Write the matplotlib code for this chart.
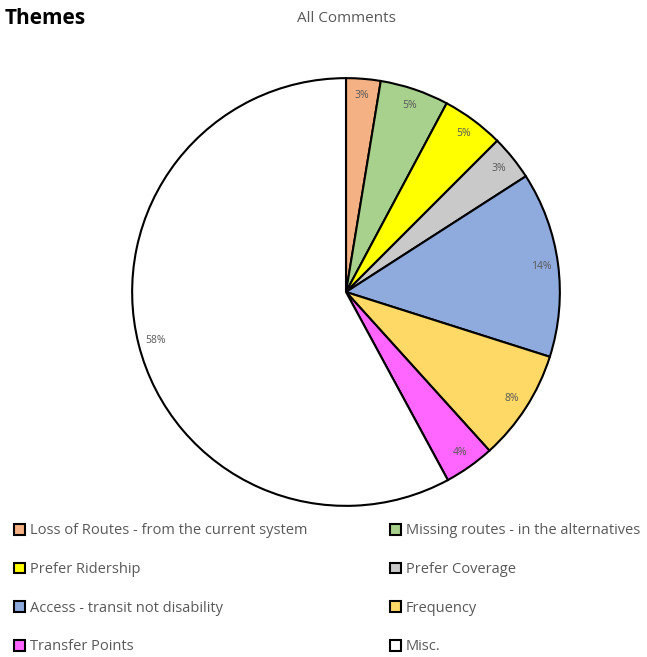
import matplotlib
matplotlib.use("Agg")
import matplotlib.pyplot as plt

categories = ["Loss of Routes - from the current system", "Missing routes - in the alternatives",
              "Prefer Ridership", "Prefer Coverage", "Access - transit not disability",
              "Frequency", "Transfer Points", "Misc."]
values = [2.6, 5.2, 4.7, 3.4, 14.0, 8.4, 3.8, 57.9]
colors = ["#F4B183", "#A9D18E", "#FFFF00", "#C9C9C9", "#8FAADC", "#FFD966", "#FF66FF", "#FFFFFF"]

plt.rcParams['font.family'] = ['Open Sans', 'DejaVu Sans']

W, H = 647, 657
fig = plt.figure(figsize=(W/100, H/100), dpi=100)
cx, cy, r = 346, 292, 216
ax = fig.add_axes([(cx - r)/W, 1 - (cy + r)/H, 2*r/W, 2*r/H])
wedges, texts, autotexts = ax.pie(values, colors=colors, startangle=90, counterclock=False,
                                  autopct='%.0f%%', pctdistance=0.92, radius=1,
                                  wedgeprops=dict(edgecolor='black', linewidth=1.5),
                                  textprops=dict(fontsize=7.5, color='#595959'))
ax.set_xlim(-1.01, 1.01)
ax.set_ylim(-1.01, 1.01)
ax.set_aspect('equal')
ax.axis('off')

fig.text(5/W, 1 - 18/H, "Themes", fontsize=15, fontweight='bold', color='black',
         ha='left', va='center')
fig.text(346/W, 1 - 18/H, "All Comments", fontsize=11, color='#595959', ha='center', va='center')

for col, x0 in enumerate([14, 390]):
    hs = [wedges[i] for i in range(col, 8, 2)]
    ls = [categories[i] for i in range(col, 8, 2)]
    leg = fig.legend(hs, ls, loc='upper left', bbox_to_anchor=(x0/W, 1 - 523.5/H),
                     frameon=False, fontsize=10.5, labelspacing=1.62, handlelength=0.75,
                     handleheight=0.75, handletextpad=0.35, borderaxespad=0, borderpad=0)
    for t in leg.get_texts():
        t.set_color('#595959')

fig.savefig("out.png", dpi=100)
